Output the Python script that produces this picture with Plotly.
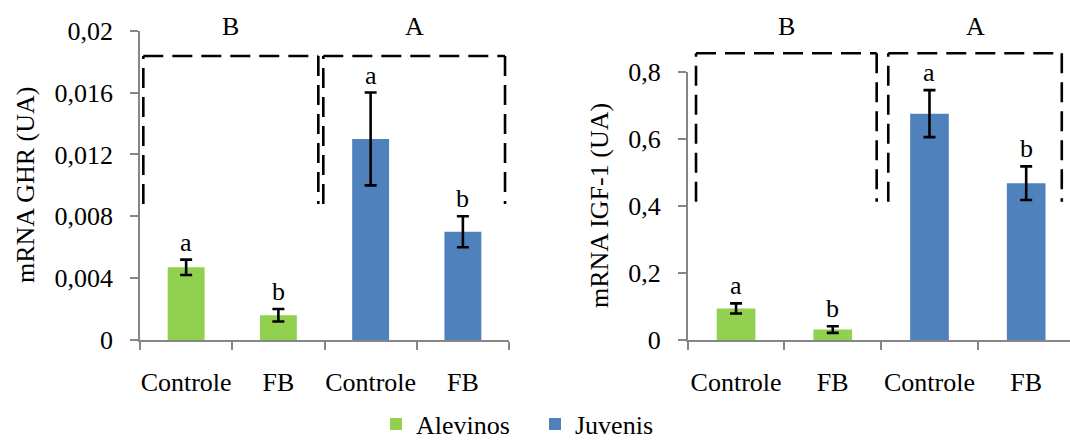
import plotly.graph_objects as go

# ---------------- data ----------------
categories = ["Controle", "FB", "Controle", "FB"]
x_alevinos = [0, 1]
x_juvenis = [2, 3]

ghr_alevinos = [0.0047, 0.0016]
ghr_alevinos_err = [0.0005, 0.0004]
ghr_juvenis = [0.0130, 0.0070]
ghr_juvenis_err = [0.0030, 0.0010]

igf_alevinos = [0.095, 0.032]
igf_alevinos_err = [0.015, 0.010]
igf_juvenis = [0.675, 0.468]
igf_juvenis_err = [0.070, 0.050]

letters = ["a", "b", "a", "b"]
group_labels = ["B", "A"]

ghr_ticks = [0, 0.004, 0.008, 0.012, 0.016, 0.02]
igf_ticks = [0, 0.2, 0.4, 0.6, 0.8]

GREEN = "#92D050"
BLUE = "#4F81BD"
GRAY = "#868686"
FONT = "Liberation Serif, Times New Roman, serif"
FS = 26

W, H = 1070, 441


def lab(v):
    return f"{v:g}".replace(".", ",")


fig = go.Figure()

err_style = dict(type="data", color="black", thickness=2.6, width=6, visible=True)

# left panel
fig.add_trace(go.Bar(x=x_alevinos, y=ghr_alevinos, width=0.4, marker=dict(color=GREEN, line=dict(width=0)),
                     error_y=dict(array=ghr_alevinos_err, **err_style), name="Alevinos",
                     xaxis="x", yaxis="y", showlegend=True))
fig.add_trace(go.Bar(x=x_juvenis, y=ghr_juvenis, width=0.4, marker=dict(color=BLUE, line=dict(width=0)),
                     error_y=dict(array=ghr_juvenis_err, **err_style), name="Juvenis",
                     xaxis="x", yaxis="y", showlegend=True))
# right panel
fig.add_trace(go.Bar(x=x_alevinos, y=igf_alevinos, width=0.4, marker=dict(color=GREEN, line=dict(width=0)),
                     error_y=dict(array=igf_alevinos_err, **err_style), name="Alevinos",
                     xaxis="x2", yaxis="y2", showlegend=False))
fig.add_trace(go.Bar(x=x_juvenis, y=igf_juvenis, width=0.4, marker=dict(color=BLUE, line=dict(width=0)),
                     error_y=dict(array=igf_juvenis_err, **err_style), name="Juvenis",
                     xaxis="x2", yaxis="y2", showlegend=False))

# ---------------- layout geometry ----------------
xr1 = [-0.5, 3.5]
xr2 = [-0.5, 3.453]
yr1 = [0, 0.02]
yr2 = [0, 0.8]

xaxis_common = dict(
    tickmode="array", tickvals=[0, 1, 2, 3], ticktext=categories, ticks="",
    showline=True, linecolor=GRAY, linewidth=1.5, showgrid=False, zeroline=False,
    tickfont=dict(family=FONT, size=FS, color="black"), ticklabelstandoff=18,
    minor=dict(tickmode="array", tickvals=[-0.5, 0.5, 1.5, 2.5, 3.5], ticks="outside",
               ticklen=8, tickwidth=1.5, tickcolor=GRAY, showgrid=False),
    automargin=False, fixedrange=True,
)
yaxis_common = dict(
    tickmode="array", ticks="outside", ticklen=8, tickwidth=1.5, tickcolor=GRAY,
    showline=True, linecolor=GRAY, linewidth=1.5, showgrid=False, zeroline=False,
    tickfont=dict(family=FONT, size=FS, color="black"), ticklabelstandoff=12,
    automargin=False, fixedrange=True,
)

fig.update_layout(
    width=W, height=H,
    margin=dict(l=0, r=0, t=0, b=0, autoexpand=False),
    paper_bgcolor="white", plot_bgcolor="white",
    barmode="overlay",
    font=dict(family=FONT, size=FS, color="black"),
    xaxis=dict(domain=[140 / W, 509 / W], range=xr1, anchor="y", **xaxis_common),
    yaxis=dict(domain=[1 - 340 / H, 1 - 30.7 / H], range=yr1, anchor="x",
               tickvals=ghr_ticks, ticktext=[lab(v) for v in ghr_ticks], **yaxis_common),
    xaxis2=dict(domain=[687.7 / W, 1.0], range=xr2, anchor="y2", **xaxis_common),
    yaxis2=dict(domain=[1 - 340.3 / H, 1 - 71.7 / H], range=yr2, anchor="x2",
                tickvals=igf_ticks, ticktext=[lab(v) for v in igf_ticks], **yaxis_common),
    legend=dict(orientation="h", x=376 / W, y=1 - 424 / H, xanchor="left", yanchor="middle",
                entrywidth=114, entrywidthmode="pixels",
                font=dict(family=FONT, size=FS, color="black"), bgcolor="rgba(0,0,0,0)",
                itemclick=False, itemdoubleclick=False),
    showlegend=True,
)

# ---------------- dashed group boxes ----------------
shapes = []
annotations = []


def xdom(v, rng):
    return (v - rng[0]) / (rng[1] - rng[0])


panels = [
    dict(xa="x", ya="y", xr=xr1, yr=yr1,
         boxes=[(-0.464, 1.433), (1.487, 3.457)], top=0.01836, bottom=0.0088),
    dict(xa="x2", ya="y2", xr=xr2, yr=yr2,
         boxes=[(-0.414, 1.454), (1.574, 3.368)], top=0.855, bottom=0.413),
]
dash_line = dict(color="black", width=2.6, dash="20px,9px")
for p in panels:
    yt = p["top"] / p["yr"][1]
    yb = p["bottom"] / p["yr"][1]
    for (b0, b1), g in zip(p["boxes"], group_labels):
        x0 = xdom(b0, p["xr"])
        x1 = xdom(b1, p["xr"])
        common = dict(type="line", xref=p["xa"] + " domain", yref=p["ya"] + " domain", line=dash_line)
        shapes.append(dict(x0=x0, x1=x0, y0=yb, y1=yt, **common))
        shapes.append(dict(x0=x0, x1=x1, y0=yt, y1=yt, **common))
        shapes.append(dict(x0=x1, x1=x1, y0=yt, y1=yb, **common))
        annotations.append(dict(text=g, x=(x0 + x1) / 2, xref=p["xa"] + " domain", y=1 - 27 / H,
                                yref="paper", showarrow=False, xanchor="center", yanchor="middle",
                                font=dict(family=FONT, size=FS, color="black")))

# significance letters
for xa, ya, vals, errs in [
    ("x", "y", ghr_alevinos + ghr_juvenis, ghr_alevinos_err + ghr_juvenis_err),
    ("x2", "y2", igf_alevinos + igf_juvenis, igf_alevinos_err + igf_juvenis_err),
]:
    for i, (v, e) in enumerate(zip(vals, errs)):
        annotations.append(dict(text=letters[i], x=i, y=v + e, xref=xa, yref=ya, showarrow=False,
                                xanchor="center", yanchor="bottom", yshift=1,
                                font=dict(family=FONT, size=FS, color="black")))

# y-axis titles
annotations.append(dict(text="mRNA GHR (UA)", x=25 / W, y=1 - 185 / H, xref="paper", yref="paper",
                        textangle=-90, showarrow=False, xanchor="center", yanchor="middle",
                        font=dict(family=FONT, size=FS, color="black")))
annotations.append(dict(text="mRNA IGF-1 (UA)", x=600 / W, y=1 - 206 / H, xref="paper", yref="paper",
                        textangle=-90, showarrow=False, xanchor="center", yanchor="middle",
                        font=dict(family=FONT, size=FS, color="black")))

fig.update_layout(shapes=shapes, annotations=annotations)

fig.write_html("out.html")
